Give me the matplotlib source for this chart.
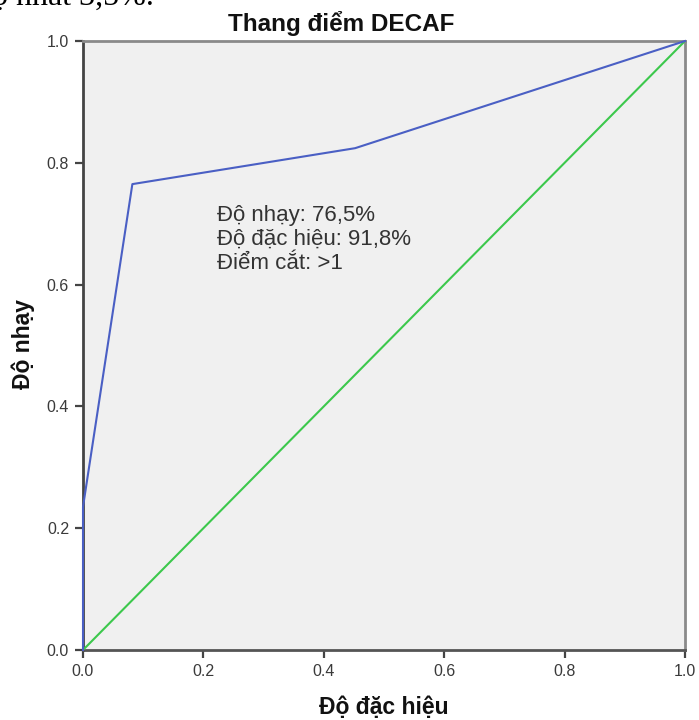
import matplotlib
matplotlib.use("Agg")
import matplotlib.pyplot as plt

# ROC curve for the DECAF score
fpr = [0.0, 0.0, 0.082, 0.452, 1.0]
tpr = [0.0, 0.235, 0.765, 0.824, 1.0]
ref_x = [0.0, 1.0]
ref_y = [0.0, 1.0]
ticks = [0.0, 0.2, 0.4, 0.6, 0.8, 1.0]
tick_labels = ["0.0", "0.2", "0.4", "0.6", "0.8", "1.0"]
note_lines = ["Độ nhạy: 76,5%", "Độ đặc hiệu: 91,8%", "Điểm cắt: >1"]

plt.rcParams["font.family"] = ["Liberation Sans", "DejaVu Sans"]

fig = plt.figure(figsize=(6.99, 7.2), dpi=100)
W, H = 699, 720
ax = fig.add_axes([83 / W, 1 - 650 / H, (685 - 83) / W, (650 - 41) / H])
ax.set_facecolor("#f0f0f0")

ax.plot(ref_x, ref_y, color="#3cc84c", lw=1.5, zorder=3)
ax.plot(fpr, tpr, color="#4a5fc4", lw=1.5, zorder=4, clip_on=False)

ax.set_xlim(0, 1)
ax.set_ylim(0, 1)
ax.set_xticks(ticks)
ax.set_xticklabels(tick_labels)
ax.set_yticks(ticks)
ax.set_yticklabels(tick_labels)
ax.tick_params(direction="out", length=6, width=1.6, color="#444444",
               labelsize=11.5, labelcolor="#3a3a3a", pad=4)
for s in ax.spines.values():
    s.set_color("#8a8a8a")
    s.set_linewidth(2.0)
ax.spines["left"].set_color("#444444")
ax.spines["bottom"].set_color("#555555")

ax.text(0.223, 0.73, "\n".join(note_lines), fontsize=16, color="#333333",
        va="top", ha="left", linespacing=1.17)

fig.text(341 / W, 1 - 23 / H, "Thang điểm DECAF", fontsize=17.5,
         fontweight="bold", ha="center", va="center", color="#111111")
fig.text(384 / W, 1 - 708 / H, "Độ đặc hiệu", fontsize=16.5,
         fontweight="bold", ha="center", va="center", color="#111111")
fig.text(23 / W, 1 - 344 / H, "Độ nhạy", fontsize=16.5, rotation=90,
         fontweight="bold", ha="center", va="center", color="#111111")

fig.text(-0.035, 1 - 5 / H, "độ nhất 3,5%.", fontsize=23,
         family=["Liberation Serif", "DejaVu Serif"], ha="left",
         va="baseline", color="#000000")

fig.savefig("out.png", dpi=100)
